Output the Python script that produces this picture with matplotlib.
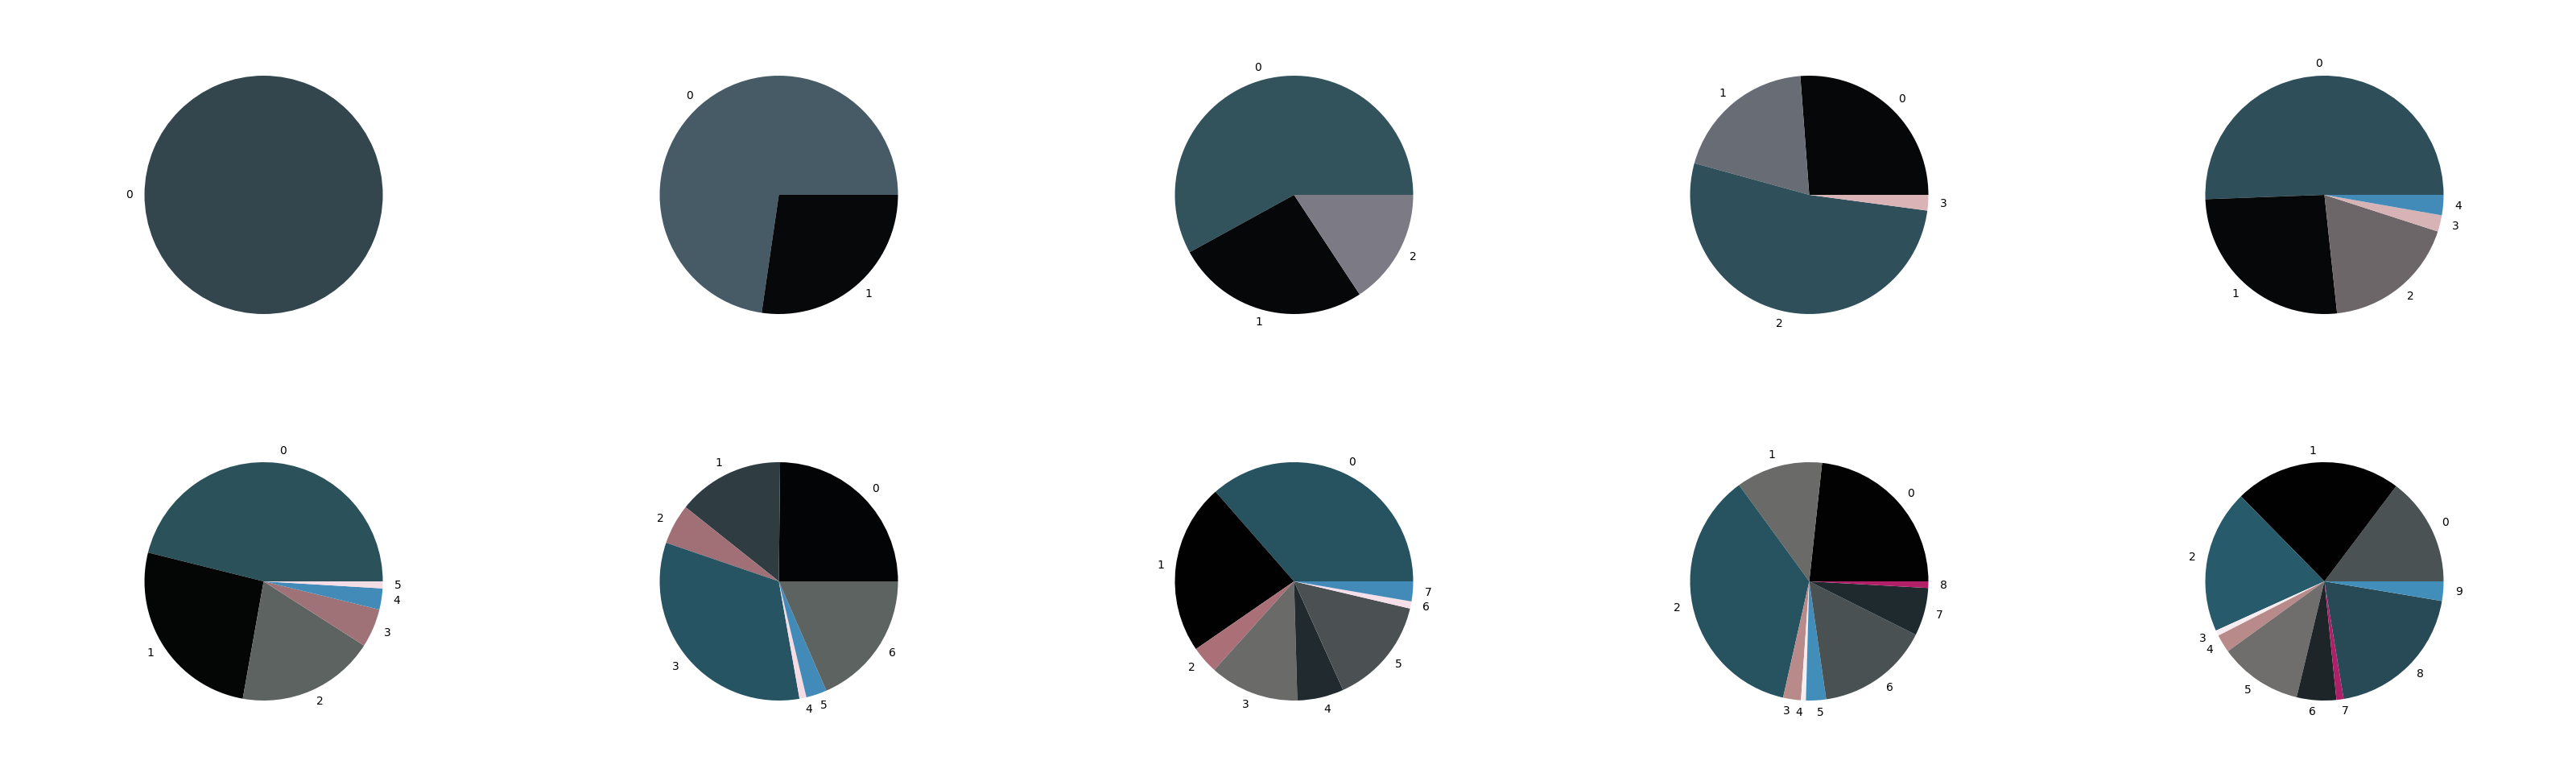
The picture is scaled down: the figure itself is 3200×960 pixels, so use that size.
import matplotlib
matplotlib.use("Agg")
import matplotlib.pyplot as plt

# slice sizes (degrees of each wedge)
sizes1 = [360]
sizes2 = [261.7, 98.3]
sizes3 = [208.8, 94.6, 56.6]
sizes4 = [94.3, 70.3, 187.8, 7.6]
sizes5 = [182.1, 94.0, 66.0, 8.0, 9.9]
sizes6 = [166.0, 93.9, 67.5, 18.9, 10.3, 3.4]
sizes7 = [89.4, 52.1, 19.6, 118.9, 3.4, 10.1, 66.5]
sizes8 = [131.2, 83.4, 13.4, 43.6, 22.7, 52.5, 3.5, 9.7]
sizes9 = [83.8, 42.3, 131.2, 8.7, 2.4, 9.8, 55.2, 23.4, 3.2]
sizes10 = [53.0, 81.5, 69.9, 2.7, 8.8, 40.6, 19.3, 3.5, 71.2, 9.5]

colors1 = ['#34464d']
colors2 = ['#465b65', '#06080a']
colors3 = ['#33535c', '#060709', '#7c7a84']
colors4 = ['#060709', '#686c74', '#2f4f5a', '#d9b3b6']
colors5 = ['#2e4f5a', '#060709', '#6d6668', '#d8b3b6', '#428bb8']
colors6 = ['#2b515a', '#040605', '#5c6361', '#9f7277', '#428bb8', '#f5dde6']
colors7 = ['#030405', '#2f3d43', '#a07076', '#265462', '#f5dbe5', '#428bb8', '#5c6361']
colors8 = ['#27525f', '#010101', '#ab6f78', '#6a6a68', '#212b2f', '#4b5153', '#f5e0ea', '#428bb8']
colors9 = ['#020202', '#6a6a68', '#27525f', '#b88a8a', '#f5eef0', '#428ebb', '#4a5153', '#1f2a2e', '#b01f67']
colors10 = ['#4a5254', '#010101', '#275a6a', '#f7ecef', '#b88a8a', '#6f6e6c', '#1e2528', '#b0206a', '#284a56', '#428ebb']

all_sizes = [sizes1, sizes2, sizes3, sizes4, sizes5,
             sizes6, sizes7, sizes8, sizes9, sizes10]
all_colors = [colors1, colors2, colors3, colors4, colors5,
              colors6, colors7, colors8, colors9, colors10]

fig = plt.figure(figsize=(32, 9.6), dpi=100)
axes = fig.subplots(2, 5, gridspec_kw=dict(left=15/3200, right=1.0, wspace=0.024,
                                           top=1 - 57/960, bottom=53/960,
                                           hspace=110/370))

for ax, sizes, cols in zip(axes.flat, all_sizes, all_colors):
    labels = [str(i) for i in range(len(sizes))]
    ax.pie(sizes, labels=labels, colors=cols)

fig.savefig("out.png", dpi=100)
